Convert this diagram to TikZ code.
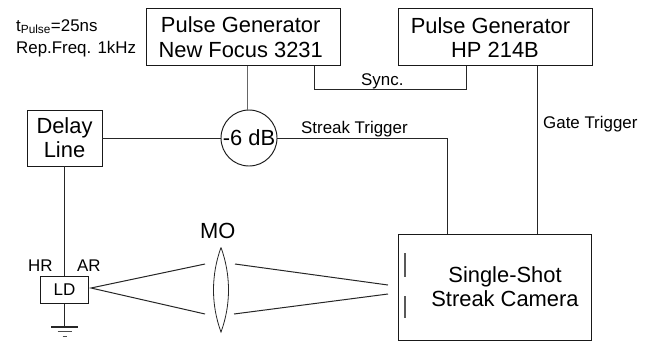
\documentclass[tikz,border=0pt]{standalone}
\usepackage{fontspec}
\setmainfont{Liberation Sans}
\newcommand{\bigf}{\fontsize{21.9}{24.2}\selectfont}
\newcommand{\smallf}{\fontsize{16.9}{22}\selectfont}
\tikzset{
  x=1pt,y=-1pt,
  wire/.style={line width=1pt,black!85},
  boxnode/.style={draw,line width=0.95pt,black!90,text=black,inner sep=0pt,align=center,font=\bigf},
  txt/.style={inner sep=0pt,anchor=base west,font=\smallf,text=black},
  bigtxt/.style={txt,font=\bigf}
}
\begin{document}
\begin{tikzpicture}
\useasboundingbox (0,0) rectangle (650,341);
% boxes
\node[boxnode,minimum width=193.5pt,minimum height=57.5pt] (pgone) at (243.7,37.2) {\hspace*{-6pt}Pulse Generator\\\hspace*{-6pt}New Focus 3231};
\node[boxnode,minimum width=194pt,minimum height=57.5pt] (pgtwo) at (495,37.2) {\hspace*{-9pt}Pulse Generator\\HP 214B};
\node[boxnode,minimum width=75pt,minimum height=56pt] (delay) at (64.5,138) {Delay\\Line};
\node[boxnode,circle,minimum size=56pt] (circ) at (249,138) {-6 dB};
\node[boxnode,minimum width=48pt,minimum height=26.5pt,line width=0.9pt,font=\fontsize{17}{20}\selectfont] (ld) at (64.5,290) {LD};
\node[boxnode,minimum width=193.5pt,minimum height=106pt] (cam) at (495,287) {\hspace*{20pt}Single-Shot\\\hspace*{20pt}Streak Camera};
% text labels
\node[txt] (tp) at (16,31) {t\textsubscript{Pulse}=25ns};
\node[txt] (rep) at (16,53) {Rep.Freq. 1kHz};
\node[txt] (sync) at (361,85) {Sync.};
\node[txt] (streak) at (301,133) {Streak Trigger};
\node[txt] (gate) at (543,128) {Gate Trigger};
\node[bigtxt] (mo) at (200,238) {MO};
\node[txt] (hr) at (28,271) {HR};
\node[txt] (ar) at (77,271) {AR};
% connectors
\draw[wire,black!60] ([xshift=3.3pt]pgone.south) -- ([xshift=-2pt]circ.north);
\draw[wire] ([xshift=70.3pt]pgone.south) -- ++(0,23) -| ([xshift=-29pt]pgtwo.south);
\draw[wire] ([xshift=42pt]pgtwo.south) -- ([xshift=42pt]cam.north);
\draw[wire] (circ.east) -| ([xshift=-48pt]cam.north);
\draw[wire] (delay.east) -- (circ.west);
\draw[wire] (delay.south) -- (ld.north);
% ground
\coordinate (gnd) at (64.5,327);
\draw[wire] (ld.south) -- (gnd);
\draw[line width=1.2pt,black!85] ([xshift=-13.5pt]gnd) -- ([xshift=13.5pt]gnd);
\draw[line width=0.8pt,black!70] ([xshift=-7pt,yshift=-4.5pt]gnd) -- ([xshift=7pt,yshift=-4.5pt]gnd);
\draw[line width=0.8pt,black!70] ([xshift=-2pt,yshift=-9pt]gnd) -- ([xshift=2pt,yshift=-9pt]gnd);
% optics
\coordinate (src) at (91,288);
\coordinate (lupin) at (205,264);
\coordinate (llowin) at (205,314);
\coordinate (lupout) at (235,264);
\coordinate (llowout) at (234,314);
\coordinate (fup) at (388,285);
\coordinate (flow) at (388,294);
\coordinate (ltop) at (221,247.5);
\coordinate (lbot) at (221,332);
\draw[wire] (lupin) -- (src) -- (llowin);
\draw[wire] (lupout) -- (fup);
\draw[wire] (llowout) -- (flow);
\draw[line width=0.8pt,black!85] (ltop) .. controls (211,275) and (211,305) .. (lbot) .. controls (231,305) and (231,275) .. (ltop);
% slits
\draw[line width=1.2pt,black!65] (405,253) -- (405,277);
\draw[line width=1.2pt,black!65] (405,296) -- (405,318);
\end{tikzpicture}
\end{document}
